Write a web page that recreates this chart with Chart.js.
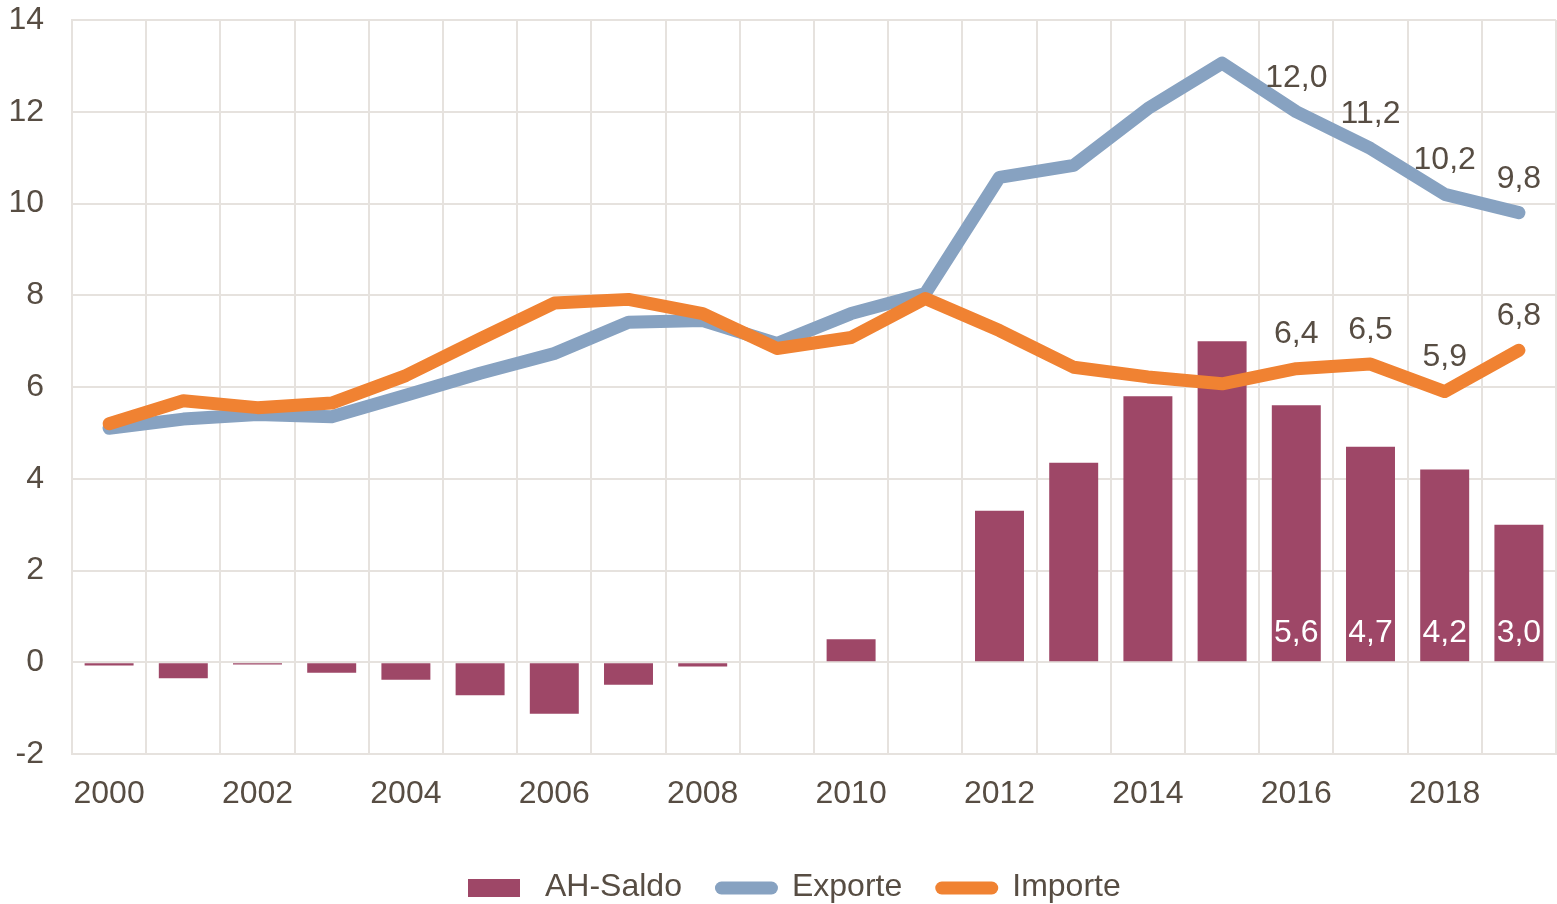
<!DOCTYPE html>
<html>
<head>
<meta charset="utf-8">
<script src="https://cdn.jsdelivr.net/npm/chart.js@4"></script>
<style>
  html, body { margin: 0; padding: 0; background: #fff; }
</style>
</head>
<body>
<canvas id="myChart" width="1557" height="904"></canvas>
<script>
'use strict';

const years = [
  '2000', '2001', '2002', '2003', '2004', '2005', '2006', '2007', '2008', '2009',
  '2010', '2011', '2012', '2013', '2014', '2015', '2016', '2017', '2018', '2019',
];

const saldo = [
  -0.07, -0.35, -0.05, -0.23, -0.38, -0.72, -1.12, -0.49, -0.09, 0,
  0.5, 0, 3.3, 4.35, 5.8, 7.0, 5.6, 4.7, 4.2, 3.0,
];
const exporte = [
  5.1, 5.3, 5.4, 5.35, 5.82, 6.3, 6.73, 7.41, 7.45, 6.95,
  7.6, 8.04, 10.57, 10.83, 12.07, 13.06, 12.0, 11.2, 10.2, 9.8,
];
const importe = [
  5.2, 5.7, 5.55, 5.65, 6.25, 7.05, 7.83, 7.91, 7.6, 6.84,
  7.08, 7.93, 7.23, 6.43, 6.22, 6.07, 6.4, 6.5, 5.9, 6.8,
];

// values are written out for the last four years only
const labelFrom = 16;

const textColor = '#574d43';
const gridColor = '#e6e2de';
const fontFamily = '"Liberation Sans", Arial, sans-serif';

Chart.defaults.font.family = fontFamily;
Chart.defaults.font.size = 32;
Chart.defaults.color = textColor;

const valueLabels = {
  id: 'valueLabels',
  afterDatasetsDraw(chart) {
    const ctx = chart.ctx;
    const zeroY = chart.scales.y.getPixelForValue(0);
    ctx.save();
    ctx.font = '32px ' + fontFamily;
    ctx.textAlign = 'center';
    ctx.textBaseline = 'middle';
    chart.data.datasets.forEach((ds, i) => {
      const meta = chart.getDatasetMeta(i);
      meta.data.forEach((el, j) => {
        if (j < labelFrom) return;
        const text = ds.data[j].toFixed(1).replace('.', ',');
        if (ds.type === 'bar') {
          ctx.fillStyle = '#ffffff';
          ctx.fillText(text, el.x, zeroY - 29);
        } else {
          ctx.fillStyle = textColor;
          ctx.fillText(text, el.x, el.y - 34);
        }
      });
    });
    ctx.restore();
  },
};

// legend row under the axis: bar swatch or rounded line, then the name
const bottomLegend = {
  id: 'bottomLegend',
  afterDraw(chart) {
    const ctx = chart.ctx;
    const y = 887;
    let x = 468;
    ctx.save();
    ctx.font = '32px ' + fontFamily;
    ctx.textAlign = 'left';
    ctx.textBaseline = 'middle';
    chart.data.datasets.forEach((ds) => {
      if (ds.type === 'bar') {
        ctx.fillStyle = ds.backgroundColor;
        ctx.fillRect(x, y - 8, 52, 18);
      } else {
        ctx.strokeStyle = ds.borderColor;
        ctx.lineWidth = 13;
        ctx.lineCap = 'round';
        ctx.beginPath();
        ctx.moveTo(x + 6.5, y + 1);
        ctx.lineTo(x + 56.5, y + 1);
        ctx.stroke();
      }
      ctx.fillStyle = textColor;
      ctx.fillText(ds.label, x + 77, y);
      x += 77 + ctx.measureText(ds.label).width + 33;
    });
    ctx.restore();
  },
};

const ctx = document.getElementById('myChart');

new Chart(ctx, {
  type: 'bar',
  data: {
    labels: years,
    datasets: [
      {
        type: 'bar',
        label: 'AH-Saldo',
        data: saldo,
        backgroundColor: '#9e4767',
        barPercentage: 0.66,
        categoryPercentage: 1,
        order: 3,
      },
      {
        type: 'line',
        label: 'Exporte',
        data: exporte,
        borderColor: '#87a2c1',
        backgroundColor: '#87a2c1',
        borderWidth: 13,
        borderCapStyle: 'round',
        borderJoinStyle: 'round',
        tension: 0,
        pointRadius: 0,
        order: 2,
      },
      {
        type: 'line',
        label: 'Importe',
        data: importe,
        borderColor: '#f08232',
        backgroundColor: '#f08232',
        borderWidth: 13,
        borderCapStyle: 'round',
        borderJoinStyle: 'round',
        tension: 0,
        pointRadius: 0,
        order: 1,
      },
    ],
  },
  options: {
    responsive: false,
    animation: false,
    layout: {
      padding: { top: 20, right: 1, bottom: 0, left: 0 },
    },
    plugins: {
      tooltip: { enabled: false },
      legend: { display: false },
    },
    scales: {
      x: {
        grid: {
          color: gridColor,
          lineWidth: 2,
          drawTicks: false,
        },
        border: { color: gridColor, width: 2 },
        ticks: {
          autoSkip: false,
          maxRotation: 0,
          padding: 21,
          callback: (value, i) => (i % 2 === 0 ? years[i] : ''),
        },
        afterFit(scale) {
          // room below the axis for the legend row
          scale.height = 150;
        },
      },
      y: {
        min: -2,
        max: 14,
        grid: {
          color: gridColor,
          lineWidth: 2,
          drawTicks: false,
        },
        border: { color: gridColor, width: 2 },
        ticks: {
          stepSize: 2,
          padding: 28,
        },
        afterFit(scale) {
          scale.width = 72;
          // tick padding should not push the plot down
          scale.paddingTop = 20;
        },
      },
    },
  },
  plugins: [valueLabels, bottomLegend],
});
</script>
</body>
</html>
